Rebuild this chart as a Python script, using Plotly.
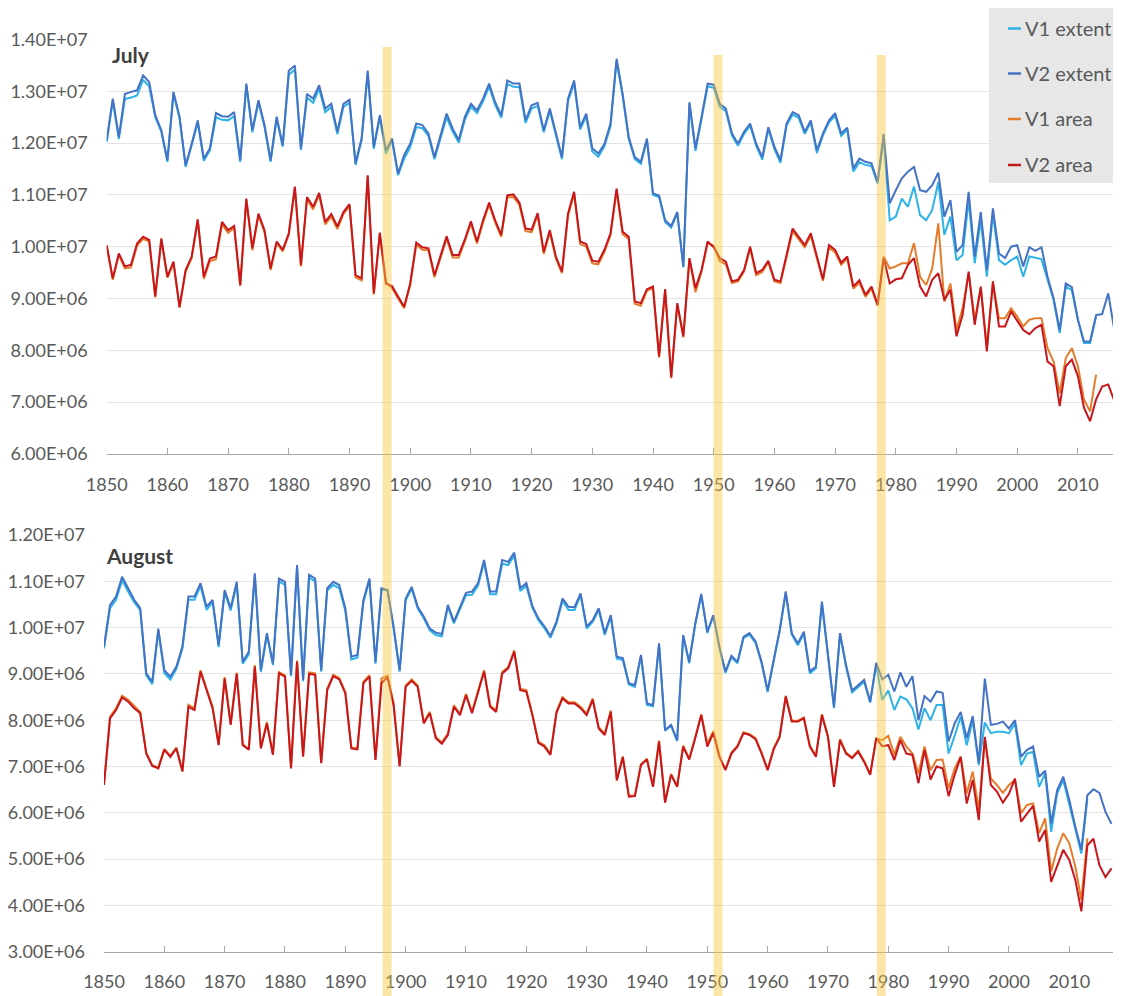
import plotly.graph_objects as go

# The page body keeps the browser's default 8px margin, so the figure is
# sized to fill the rest of the 1121x996 window exactly.
OFF = 8
W, H = 1121 - OFF, 996 - OFF

YEARS = list(range(1850, 2018))      # V2 series
YEARS_V1 = list(range(1850, 2014))   # V1 series end in 2013

# ---------------- July (values in 1e6) ----------------
JUL_V2_EXT = [
    12.06, 12.86, 12.12, 12.95, 12.99, 13.02, 13.31, 13.18, 12.54, 12.25,
    11.67, 12.99, 12.51, 11.57, 11.99, 12.44, 11.70, 11.90, 12.58, 12.52,
    12.51, 12.60, 11.67, 13.15, 12.25, 12.83, 12.35, 11.67, 12.51, 11.96,
    13.40, 13.50, 11.90, 12.95, 12.86, 13.12, 12.67, 12.76, 12.22, 12.76,
    12.84, 11.61, 12.10, 13.40, 11.93, 12.54, 11.86, 12.09, 11.41, 11.77,
    11.99, 12.38, 12.35, 12.19, 11.73, 12.15, 12.57, 12.28, 12.06, 12.51,
    12.76, 12.63, 12.86, 13.15, 12.79, 12.54, 13.21, 13.15, 13.15, 12.44,
    12.73, 12.78, 12.25, 12.67, 12.22, 11.73, 12.86, 13.21, 12.31, 12.57,
    11.90, 11.80, 11.99, 12.38, 13.63, 12.95, 12.12, 11.73, 11.64, 12.09,
    11.03, 10.99, 10.51, 10.40, 10.67, 9.62, 12.79, 11.90, 12.51, 13.15,
    13.13, 12.76, 12.67, 12.19, 11.99, 12.22, 12.38, 11.99, 11.73, 12.31,
    11.93, 11.67, 12.38, 12.60, 12.54, 12.22, 12.44, 11.86, 12.19, 12.44,
    12.58, 12.19, 12.30, 11.51, 11.70, 11.64, 11.61, 11.25, 12.18, 10.84,
    11.09, 11.32, 11.45, 11.54, 11.09, 11.06, 11.19, 11.43, 10.58, 10.90,
    9.90, 10.03, 11.06, 9.81, 10.67, 9.55, 10.74, 9.87, 9.78, 10.00,
    10.03, 9.62, 9.99, 9.92, 9.99, 9.42, 9.00, 8.39, 9.29, 9.22,
    8.59, 8.17, 8.17, 8.68, 8.70, 9.10, 8.39, 8.49,
]
JUL_V1_EXT = [
    12.02, 12.82, 12.08, 12.85, 12.88, 12.92, 13.22, 13.10, 12.50, 12.22,
    11.64, 12.96, 12.48, 11.54, 11.96, 12.40, 11.66, 11.86, 12.50, 12.45,
    12.44, 12.52, 11.64, 13.11, 12.21, 12.79, 12.31, 11.64, 12.47, 11.93,
    13.32, 13.42, 11.87, 12.88, 12.78, 13.05, 12.60, 12.70, 12.17, 12.70,
    12.78, 11.58, 12.06, 13.34, 11.89, 12.50, 11.80, 12.05, 11.38, 11.70,
    11.92, 12.31, 12.29, 12.14, 11.69, 12.10, 12.50, 12.22, 12.01, 12.45,
    12.70, 12.58, 12.81, 13.09, 12.74, 12.49, 13.14, 13.09, 13.08, 12.39,
    12.67, 12.72, 12.21, 12.62, 12.18, 11.69, 12.81, 13.16, 12.26, 12.52,
    11.84, 11.74, 11.94, 12.33, 13.58, 12.91, 12.08, 11.69, 11.60, 12.05,
    11.00, 10.96, 10.48, 10.37, 10.64, 9.60, 12.76, 11.85, 12.47, 13.10,
    13.07, 12.70, 12.62, 12.15, 11.95, 12.18, 12.34, 11.95, 11.68, 12.27,
    11.89, 11.62, 12.34, 12.55, 12.49, 12.18, 12.40, 11.81, 12.15, 12.40,
    12.53, 12.14, 12.26, 11.45, 11.63, 11.58, 11.56, 11.22, 12.10, 10.51,
    10.58, 10.93, 10.77, 11.16, 10.61, 10.51, 10.71, 11.25, 10.23, 10.58,
    9.74, 9.84, 10.90, 9.68, 10.51, 9.42, 10.64, 9.74, 9.65, 9.74,
    9.81, 9.42, 9.81, 9.78, 9.76, 9.36, 8.97, 8.33, 9.23, 9.16,
    8.59, 8.14, 8.14, 8.65,
]
JUL_V2_AREA = [
    10.03, 9.39, 9.87, 9.62, 9.65, 10.06, 10.19, 10.13, 9.04, 10.16,
    9.42, 9.71, 8.84, 9.55, 9.81, 10.53, 9.42, 9.77, 9.81, 10.48,
    10.32, 10.40, 9.26, 10.93, 9.97, 10.64, 10.32, 9.58, 10.10, 9.94,
    10.26, 11.16, 9.65, 10.96, 10.77, 11.04, 10.48, 10.63, 10.39, 10.67,
    10.82, 9.45, 9.39, 11.38, 9.10, 10.27, 9.29, 9.24, 9.04, 8.84,
    9.29, 10.08, 9.99, 9.97, 9.45, 9.81, 10.20, 9.84, 9.84, 10.14,
    10.49, 10.10, 10.51, 10.85, 10.51, 10.23, 10.99, 11.01, 10.85, 10.35,
    10.33, 10.65, 9.90, 10.32, 9.81, 9.52, 10.64, 11.06, 10.10, 10.05,
    9.73, 9.71, 9.94, 10.26, 11.12, 10.29, 10.19, 8.94, 8.91, 9.18,
    9.23, 7.88, 9.18, 7.48, 8.91, 8.27, 9.78, 9.20, 9.55, 10.10,
    9.99, 9.78, 9.71, 9.33, 9.36, 9.55, 10.00, 9.49, 9.55, 9.73,
    9.36, 9.33, 9.87, 10.35, 10.19, 10.03, 10.26, 9.81, 9.37, 10.03,
    9.94, 9.69, 9.81, 9.23, 9.35, 9.07, 9.23, 8.88, 9.78, 9.29,
    9.37, 9.39, 9.65, 9.78, 9.23, 9.04, 9.36, 9.49, 8.97, 9.17,
    8.27, 8.68, 9.52, 8.49, 9.23, 7.98, 9.33, 8.46, 8.46, 8.75,
    8.56, 8.39, 8.31, 8.43, 8.49, 7.78, 7.69, 6.92, 7.69, 7.82,
    7.50, 6.89, 6.63, 7.05, 7.30, 7.34, 7.02, 7.05,
]
JUL_V1_AREA = [
    10.00, 9.36, 9.84, 9.58, 9.60, 10.02, 10.15, 10.10, 9.02, 10.13,
    9.40, 9.68, 8.82, 9.52, 9.78, 10.50, 9.38, 9.72, 9.76, 10.43,
    10.27, 10.36, 9.24, 10.90, 9.93, 10.60, 10.28, 9.55, 10.07, 9.91,
    10.23, 11.13, 9.62, 10.92, 10.72, 11.00, 10.43, 10.58, 10.34, 10.63,
    10.79, 9.41, 9.35, 11.35, 9.08, 10.25, 9.31, 9.20, 9.00, 8.81,
    9.26, 10.04, 9.94, 9.93, 9.41, 9.77, 10.16, 9.79, 9.79, 10.10,
    10.45, 10.06, 10.47, 10.81, 10.47, 10.19, 10.95, 10.96, 10.80, 10.30,
    10.28, 10.61, 9.86, 10.28, 9.77, 9.49, 10.60, 11.02, 10.05, 10.00,
    9.68, 9.66, 9.90, 10.22, 11.08, 10.24, 10.15, 8.90, 8.86, 9.15,
    9.20, 7.86, 9.15, 7.46, 8.88, 8.25, 9.76, 9.12, 9.52, 10.07,
    10.02, 9.72, 9.66, 9.30, 9.33, 9.52, 9.97, 9.45, 9.51, 9.70,
    9.33, 9.30, 9.83, 10.30, 10.14, 9.99, 10.21, 9.77, 9.34, 9.99,
    9.89, 9.65, 9.77, 9.19, 9.30, 9.03, 9.19, 8.86, 9.81, 9.58,
    9.62, 9.68, 9.68, 10.07, 9.42, 9.26, 9.58, 10.45, 8.94, 9.29,
    8.39, 8.81, 9.49, 8.59, 9.20, 8.07, 9.29, 8.62, 8.62, 8.81,
    8.65, 8.46, 8.59, 8.62, 8.62, 8.04, 7.78, 7.17, 7.85, 8.04,
    7.69, 7.05, 6.82, 7.53,
]

# ---------------- August (values in 1e6) ----------------
AUG_V2_EXT = [
    9.59, 10.49, 10.67, 11.10, 10.85, 10.60, 10.42, 9.01, 8.83, 9.98,
    9.08, 8.94, 9.16, 9.59, 10.67, 10.67, 10.96, 10.45, 10.60, 9.62,
    10.81, 10.42, 10.99, 9.26, 9.48, 11.17, 9.08, 9.88, 9.23, 11.06,
    10.99, 8.98, 11.35, 8.87, 11.14, 11.06, 9.08, 10.85, 10.99, 10.92,
    10.42, 9.37, 9.41, 10.60, 11.06, 9.26, 10.85, 10.81, 10.02, 9.08,
    10.63, 10.88, 10.45, 10.24, 9.98, 9.89, 9.86, 10.49, 10.13, 10.45,
    10.75, 10.78, 10.96, 11.46, 10.78, 10.78, 11.46, 11.42, 11.62, 10.85,
    10.96, 10.47, 10.20, 10.03, 9.82, 10.13, 10.63, 10.45, 10.44, 10.74,
    10.02, 10.16, 10.42, 9.88, 10.27, 9.37, 9.34, 8.80, 8.76, 9.41,
    8.36, 8.33, 9.66, 7.79, 7.90, 7.57, 9.84, 9.26, 10.09, 10.73,
    9.91, 10.27, 9.59, 9.05, 9.39, 9.26, 9.80, 9.88, 9.70, 9.26,
    8.64, 9.30, 9.95, 10.78, 9.88, 9.66, 9.91, 9.05, 9.16, 10.56,
    9.44, 8.29, 9.88, 9.19, 8.64, 8.76, 8.87, 8.40, 9.24, 8.88,
    8.98, 8.62, 9.03, 8.72, 8.95, 8.00, 8.52, 8.40, 8.62, 8.59,
    7.54, 7.93, 8.18, 7.61, 8.09, 7.07, 8.90, 7.90, 7.92, 7.97,
    7.82, 8.00, 7.21, 7.36, 7.43, 6.78, 6.91, 5.77, 6.49, 6.78,
    6.28, 5.70, 5.20, 6.38, 6.51, 6.43, 6.02, 5.76,
]
AUG_V1_EXT = [
    9.55, 10.42, 10.60, 11.02, 10.78, 10.55, 10.38, 8.97, 8.78, 9.93,
    9.02, 8.88, 9.11, 9.55, 10.60, 10.60, 10.90, 10.38, 10.55, 9.58,
    10.76, 10.37, 10.94, 9.22, 9.42, 11.12, 9.04, 9.84, 9.19, 11.00,
    10.92, 8.95, 11.30, 8.84, 11.08, 11.00, 9.05, 10.80, 10.92, 10.85,
    10.36, 9.31, 9.35, 10.55, 11.02, 9.22, 10.82, 10.80, 9.98, 9.05,
    10.59, 10.84, 10.41, 10.20, 9.94, 9.84, 9.81, 10.45, 10.09, 10.41,
    10.70, 10.71, 10.91, 11.41, 10.72, 10.72, 11.38, 11.35, 11.56, 10.79,
    10.90, 10.43, 10.16, 9.99, 9.78, 10.09, 10.58, 10.38, 10.38, 10.70,
    9.98, 10.12, 10.38, 9.84, 10.23, 9.33, 9.30, 8.77, 8.72, 9.38,
    8.33, 8.30, 9.63, 7.77, 7.88, 7.55, 9.81, 9.23, 10.06, 10.70,
    9.88, 10.25, 9.56, 9.02, 9.36, 9.23, 9.77, 9.85, 9.67, 9.23,
    8.61, 9.27, 9.92, 10.75, 9.85, 9.62, 9.87, 9.01, 9.12, 10.52,
    9.41, 8.26, 9.85, 9.15, 8.60, 8.72, 8.83, 8.38, 9.20, 8.44,
    8.64, 8.22, 8.51, 8.45, 8.26, 7.80, 8.26, 8.00, 8.33, 8.33,
    7.28, 7.66, 8.08, 7.46, 8.00, 7.03, 7.95, 7.72, 7.75, 7.75,
    7.72, 7.93, 7.03, 7.28, 7.32, 6.56, 6.85, 5.59, 6.42, 6.71,
    6.20, 5.63, 5.12, 6.30,
]
AUG_V2_AREA = [
    6.60, 8.04, 8.22, 8.49, 8.40, 8.26, 8.15, 7.28, 7.01, 6.96,
    7.36, 7.21, 7.39, 6.89, 8.29, 8.22, 9.05, 8.65, 8.26, 7.46,
    8.90, 7.90, 9.00, 7.46, 7.36, 9.16, 7.39, 7.93, 7.25, 9.01,
    8.94, 6.96, 9.26, 7.21, 9.00, 8.98, 7.07, 8.65, 8.95, 8.88,
    8.58, 7.39, 7.37, 8.80, 8.94, 7.14, 8.80, 8.93, 8.33, 7.00,
    8.72, 8.85, 8.72, 7.93, 8.15, 7.61, 7.49, 7.68, 8.29, 8.11,
    8.54, 8.15, 8.58, 9.05, 8.29, 8.18, 9.01, 9.12, 9.48, 8.65,
    8.62, 8.11, 7.51, 7.43, 7.25, 8.16, 8.47, 8.36, 8.36, 8.26,
    8.11, 8.44, 7.82, 7.68, 8.18, 6.70, 7.20, 6.35, 6.36, 7.03,
    7.15, 6.56, 7.54, 6.22, 6.82, 6.56, 7.43, 7.15, 7.61, 8.11,
    7.43, 7.72, 7.21, 6.92, 7.28, 7.43, 7.72, 7.68, 7.59, 7.28,
    6.92, 7.37, 7.64, 8.51, 7.97, 7.97, 8.04, 7.43, 7.21, 8.11,
    7.64, 6.56, 7.57, 7.28, 7.18, 7.32, 7.10, 6.82, 7.61, 7.44,
    7.46, 7.14, 7.57, 7.28, 7.25, 6.64, 7.36, 6.72, 7.00, 6.96,
    6.36, 6.82, 7.21, 6.20, 6.71, 5.84, 7.64, 6.60, 6.46, 6.22,
    6.41, 6.74, 5.81, 5.99, 6.15, 5.38, 5.63, 4.51, 4.84, 5.20,
    4.98, 4.55, 3.87, 5.30, 5.44, 4.87, 4.61, 4.80,
]
AUG_V1_AREA = [
    6.62, 8.07, 8.26, 8.53, 8.44, 8.30, 8.18, 7.30, 7.03, 6.98,
    7.38, 7.23, 7.41, 6.91, 8.33, 8.26, 9.08, 8.68, 8.29, 7.48,
    8.93, 7.93, 9.03, 7.48, 7.38, 9.19, 7.41, 7.96, 7.27, 9.04,
    8.97, 6.98, 9.29, 7.23, 9.03, 9.01, 7.09, 8.68, 8.98, 8.91,
    8.61, 7.41, 7.39, 8.83, 8.97, 7.16, 8.90, 8.96, 8.36, 7.02,
    8.75, 8.88, 8.75, 7.96, 8.18, 7.64, 7.52, 7.71, 8.32, 8.14,
    8.57, 8.18, 8.61, 9.08, 8.32, 8.21, 9.04, 9.15, 9.51, 8.68,
    8.65, 8.14, 7.54, 7.46, 7.28, 8.19, 8.50, 8.39, 8.39, 8.29,
    8.14, 8.47, 7.85, 7.71, 8.21, 6.72, 7.22, 6.37, 6.38, 7.05,
    7.17, 6.58, 7.56, 6.24, 6.84, 6.58, 7.45, 7.17, 7.63, 8.13,
    7.50, 7.76, 7.23, 6.94, 7.30, 7.45, 7.74, 7.70, 7.61, 7.30,
    6.94, 7.39, 7.66, 8.53, 7.99, 7.99, 8.06, 7.45, 7.23, 8.13,
    7.66, 6.58, 7.59, 7.30, 7.20, 7.34, 7.12, 6.84, 7.61, 7.57,
    7.66, 7.25, 7.64, 7.43, 7.28, 6.85, 7.43, 6.92, 7.14, 7.15,
    6.53, 6.96, 7.21, 6.42, 6.89, 6.06, 7.61, 6.74, 6.60, 6.43,
    6.60, 6.71, 5.99, 6.17, 6.20, 5.56, 5.88, 4.73, 5.23, 5.56,
    5.34, 4.84, 4.12, 5.45,
]

SERIES_NAMES = ["V1 extent", "V2 extent", "V1 area", "V2 area"]
SERIES_COLORS = ["#2DB3E8", "#4472C4", "#E57C2B", "#C8161D"]

JUL_TICKVALS = [6, 7, 8, 9, 10, 11, 12, 13, 14]
JUL_TICKTEXT = ["6.00E+06", "7.00E+06", "8.00E+06", "9.00E+06", "1.00E+07",
                "1.10E+07", "1.20E+07", "1.30E+07", "1.40E+07"]
AUG_TICKVALS = [3, 4, 5, 6, 7, 8, 9, 10, 11, 12]
AUG_TICKTEXT = ["3.00E+06", "4.00E+06", "5.00E+06", "6.00E+06", "7.00E+06",
                "8.00E+06", "9.00E+06", "1.00E+07", "1.10E+07", "1.20E+07"]
X_TICKVALS = list(range(1850, 2011, 10))
BAND_YEARS = [1896.2, 1950.7, 1977.6]
BAND_TOPS_PX = [47, 55, 55]
PANEL_TITLES = ["July", "August"]

for arr in (JUL_V2_EXT, JUL_V2_AREA, AUG_V2_EXT, AUG_V2_AREA):
    assert len(arr) == len(YEARS), len(arr)
for arr in (JUL_V1_EXT, JUL_V1_AREA, AUG_V1_EXT, AUG_V1_AREA):
    assert len(arr) == len(YEARS_V1), len(arr)


def pxx(sx):
    """screen x pixel -> paper fraction"""
    return (sx - OFF) / W


def pxy(sy):
    """screen y pixel -> paper fraction"""
    return 1 - (sy - OFF) / H


FONT = "Lato, Roboto, Arial, sans-serif"
GREY_TXT = "#595959"

fig = go.Figure()

panels = [
    ("x", "y", [JUL_V1_EXT, JUL_V2_EXT, JUL_V1_AREA, JUL_V2_AREA]),
    ("x2", "y2", [AUG_V1_EXT, AUG_V2_EXT, AUG_V1_AREA, AUG_V2_AREA]),
]
for xa, ya, series in panels:
    for vals, name, col in zip(series, SERIES_NAMES, SERIES_COLORS):
        xs = YEARS_V1 if name.startswith("V1") else YEARS
        fig.add_trace(go.Scatter(
            x=xs, y=vals, mode="lines", name=name,
            line=dict(color=col, width=2),
            xaxis=xa, yaxis=ya, showlegend=False,
            hovertemplate="%{x}: %{y:.2f}E+06<extra>" + name + "</extra>",
        ))

x_common = dict(
    tickvals=X_TICKVALS, ticks="inside", ticklen=6, tickcolor="#A6A6A6",
    showline=True, linecolor="#A6A6A6", linewidth=1.3,
    showgrid=False, zeroline=False, automargin=False,
    tickfont=dict(size=18, color=GREY_TXT, family=FONT),
    ticklabelstandoff=14,
)
y_common = dict(
    showgrid=True, gridcolor="#E3E3E3", gridwidth=1,
    ticks="", showline=False, zeroline=False, automargin=False,
    tickfont=dict(size=18, color=GREY_TXT, family=FONT),
    ticklabelstandoff=18,
)

JUL_LEFT, AUG_LEFT = 106.7, 104.0
JUL_PXYR, AUG_PXYR = 6.07, 6.033

fig.update_layout(
    width=W, height=H, autosize=False,
    margin=dict(l=0, r=0, t=0, b=0, autoexpand=False),
    paper_bgcolor="white", plot_bgcolor="white",
    font=dict(family=FONT, color=GREY_TXT),
    xaxis=dict(domain=[pxx(JUL_LEFT), 1],
               range=[1850, 1850 + (1121 - JUL_LEFT) / JUL_PXYR],
               anchor="y", **x_common),
    yaxis=dict(domain=[pxy(453.8), pxy(39.6)], range=[6, 14], anchor="x",
               tickvals=JUL_TICKVALS, ticktext=JUL_TICKTEXT, **y_common),
    xaxis2=dict(domain=[pxx(AUG_LEFT), 1],
                range=[1850, 1850 + (1121 - AUG_LEFT) / AUG_PXYR],
                anchor="y2", **x_common),
    yaxis2=dict(domain=[pxy(951.7), pxy(535)], range=[3, 12], anchor="x2",
                tickvals=AUG_TICKVALS, ticktext=AUG_TICKTEXT, **y_common),
    showlegend=False,
)

# panel titles
fig.add_annotation(text="<b>" + PANEL_TITLES[0] + "</b>", x=pxx(110), y=pxy(54),
                   xref="paper", yref="paper", xanchor="left", yanchor="middle",
                   showarrow=False, font=dict(size=21, color="#404040", family=FONT))
fig.add_annotation(text="<b>" + PANEL_TITLES[1] + "</b>", x=pxx(104), y=pxy(555),
                   xref="paper", yref="paper", xanchor="left", yanchor="middle",
                   showarrow=False, font=dict(size=21, color="#404040", family=FONT))

# highlighted years (translucent vertical bands across both panels)
for yr, top in zip(BAND_YEARS, BAND_TOPS_PX):
    fig.add_shape(type="rect", xref="x", yref="paper",
                  x0=yr - 0.74, x1=yr + 0.74, y0=0, y1=pxy(top),
                  fillcolor="rgba(247,200,60,0.45)", line=dict(width=0),
                  layer="above")

# legend box
fig.add_shape(type="rect", xref="paper", yref="paper",
              x0=pxx(989), x1=1.0, y0=pxy(183), y1=1.0,
              fillcolor="#E7E7E7", line=dict(width=0), layer="above")
for ycen, name, col in zip([27.5, 72.5, 118, 164], SERIES_NAMES, SERIES_COLORS):
    fig.add_shape(type="line", xref="paper", yref="paper",
                  x0=pxx(1008), x1=pxx(1021), y0=pxy(ycen + 1), y1=pxy(ycen + 1),
                  line=dict(color=col, width=2.5), layer="above")
    fig.add_annotation(text=name, x=pxx(1023), y=pxy(ycen),
                       xref="paper", yref="paper", xanchor="left", yanchor="middle",
                       showarrow=False, font=dict(size=20, color=GREY_TXT, family=FONT))

fig.write_html("out.html")
